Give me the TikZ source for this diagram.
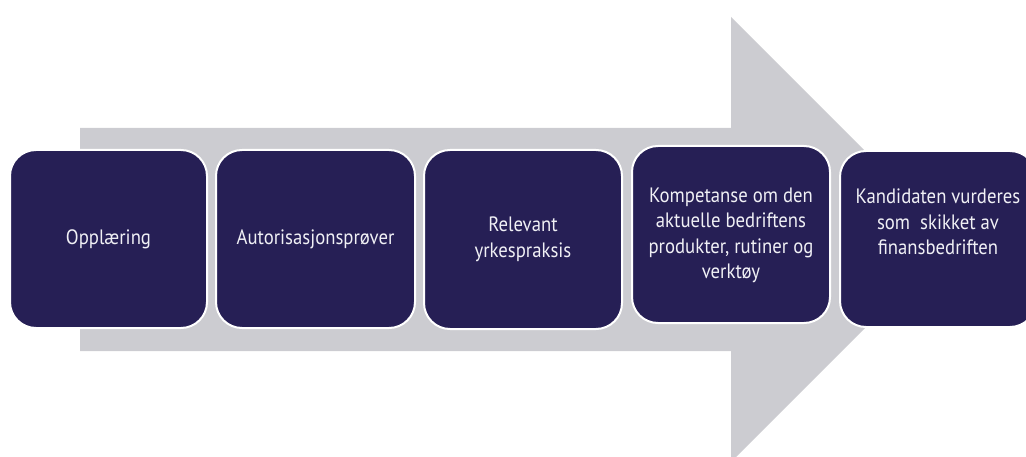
\documentclass[tikz,border=0pt]{standalone}
\usepackage{fontspec}
\setmainfont{PT Sans}[FakeStretch=0.9]
\definecolor{navy}{RGB}{38,31,85}
\definecolor{arrowgray}{RGB}{204,204,209}
\definecolor{txt}{RGB}{240,240,245}
\begin{document}
\begin{tikzpicture}[x=1pt,y=-1pt,
  stepbox/.style={draw=white,line width=2pt,fill=navy,rounded corners=26pt},
  lbl/.style={text=txt,align=center,font=\fontsize{20.8}{25.5}\selectfont,inner sep=0pt}]
\useasboundingbox (0,0) rectangle (1026,457);
\fill[arrowgray] (80,128) -- (731,128) -- (731,17) -- (953.5,239.5) -- (731,462) -- (731,351) -- (80,351) -- cycle;
\draw[stepbox] (10,150) rectangle (207,328);
\draw[stepbox] (216,150) rectangle (415,328);
\draw[stepbox] (424,150) rectangle (622,329);
\draw[stepbox] (632,146) rectangle (830,323);
\draw[stepbox] (840,151) rectangle (1036,327);
\node[lbl] (t1) at (108.5,239) {Opplæring};
\node[lbl] (t2) at (315.5,239) {Autorisasjonsprøver};
\node[lbl] (t3) at (523,239.5) {Relevant\\yrkespraksis};
\node[lbl] (t4) at (731,235.5) {Kompetanse om den\\aktuelle bedriftens\\produkter, rutiner og\\verktøy};
\node[lbl] (t5) at (938,222) {Kandidaten vurderes\\som\ \ skikket av\\finansbedriften};
\end{tikzpicture}
\end{document}
